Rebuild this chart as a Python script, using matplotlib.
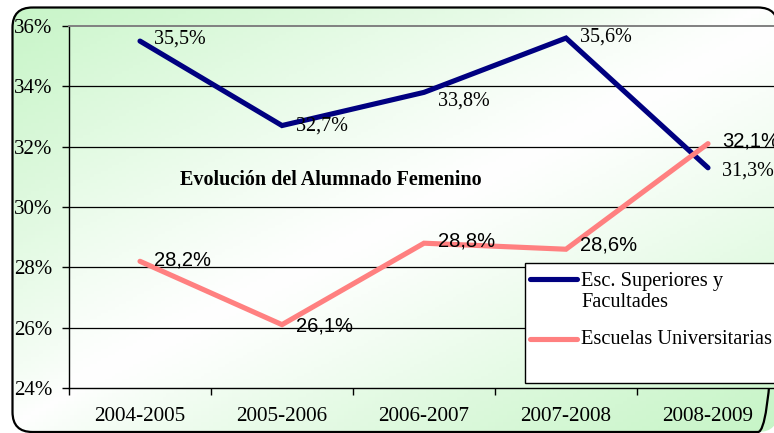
import numpy as np
import matplotlib
matplotlib.use("Agg")
import matplotlib.pyplot as plt
from matplotlib.patches import FancyBboxPatch, Rectangle
from matplotlib.lines import Line2D

# ---- data ----
categories = ["2004-2005", "2005-2006", "2006-2007", "2007-2008", "2008-2009"]
superiores = [35.5, 32.7, 33.8, 35.6, 31.3]
universitarias = [28.2, 26.1, 28.8, 28.6, 32.1]
series_names = ["Esc. Superiores y\nFacultades", "Escuelas Universitarias"]
title = "Evolución del Alumnado Femenino"
yticks = [24, 26, 28, 30, 32, 34, 36]

# ---- style ----
W, H = 774, 433
NAVY = "#000080"
SALMON = "#FF8080"
SERIF = "Liberation Serif"
SANS = "Liberation Sans"
FS = 14.5
GREEN = np.array([0.78, 0.96, 0.78])
WHITE = np.array([1.0, 1.0, 1.0])

def fx(x):
    return x / W

def fy(y):
    return 1 - y / H

def diag_gradient(nx, ny, green=GREEN, power=1.0):
    xs = np.linspace(0, 1, nx)
    ys = np.linspace(0, 1, ny)
    X, Y = np.meshgrid(xs, ys)
    t = (X + Y) / 2.0
    f = np.abs(t - 0.5) * 2  # 1 at corners TL/BR, 0 at anti-diagonal
    f = np.clip(f, 0, 1) ** power
    img = WHITE[None, None, :] * (1 - f[..., None]) + green[None, None, :] * f[..., None]
    return img

fig = plt.figure(figsize=(W / 100, H / 100), dpi=100)
fig.patch.set_facecolor("white")

# background in pixel coordinates with rounded border
bg = fig.add_axes([0, 0, 1, 1], zorder=-10)
bg.set_axis_off()
bg.set_xlim(0, W)
bg.set_ylim(H, 0)
bx0, by0, bx1, by1, rad = 12.5, 7.5, 778, 432, 20
clip = FancyBboxPatch((bx0, by0), bx1 - bx0, by1 - by0,
                      boxstyle=f"round,pad=0,rounding_size={rad}",
                      transform=bg.transData, facecolor="none", edgecolor="none")
bg.add_patch(clip)
im = bg.imshow(diag_gradient(200, 120, power=0.8), extent=(0, W, H, 0), aspect="auto",
               zorder=0)
im.set_clip_path(clip)
border = FancyBboxPatch((bx0, by0), bx1 - bx0, by1 - by0,
                        boxstyle=f"round,pad=0,rounding_size={rad}",
                        facecolor="none", edgecolor="black", linewidth=1.6, zorder=5)
bg.add_patch(border)
bg.set_xlim(0, W)
bg.set_ylim(H, 0)

# main axes (extends past the right edge as in the reference)
left, right, top, bottom = 69, 779, 26, 388
ax = fig.add_axes([fx(left), fy(bottom), (right - left) / W, (bottom - top) / H])
ax.patch.set_alpha(0)
x = np.arange(len(categories))
ax.set_xlim(-0.5, len(categories) - 0.5)
ax.set_ylim(yticks[0], yticks[-1])

ax.imshow(diag_gradient(200, 120, green=np.array([0.82, 0.97, 0.82]), power=1.1),
          extent=(-0.5, len(categories) - 0.5, yticks[0], yticks[-1]),
          aspect="auto", zorder=0)

for v in yticks[1:-1]:
    ax.axhline(v, color="black", lw=0.9, zorder=1)

ax.plot(x, superiores, color=NAVY, lw=3.7, solid_capstyle="round",
        solid_joinstyle="miter", zorder=3)
ax.plot(x, universitarias, color=SALMON, lw=3.7, solid_capstyle="round",
        solid_joinstyle="miter", zorder=3)

def pct(v):
    return f"{v:.1f}".replace(".", ",") + "%"

sup_dy = [2, 0, -9, 1, -3]
uni_dy = [1, -1, 2, 4, 3]
for i, v in enumerate(superiores):
    ax.annotate(pct(v), (x[i], v), xytext=(14, sup_dy[i]), textcoords="offset pixels",
                ha="left", va="center", fontsize=FS, family=SERIF, color="black",
                zorder=4, annotation_clip=False)
for i, v in enumerate(universitarias):
    ax.annotate(pct(v), (x[i], v), xytext=(14, uni_dy[i]), textcoords="offset pixels",
                ha="left", va="center", fontsize=FS, family=SANS, color="black",
                zorder=4, annotation_clip=False)

# axes styling
ax.spines["right"].set_visible(False)
ax.spines["top"].set_color("#808080")
ax.spines["top"].set_linewidth(1.4)
ax.spines["left"].set_color("black")
ax.spines["bottom"].set_color("black")
ax.spines["left"].set_linewidth(1.0)
ax.spines["bottom"].set_linewidth(1.0)

ax.set_yticks(yticks)
ax.set_yticklabels([f"{v}%" for v in yticks], family=SERIF, fontsize=FS + 0.5)
ax.tick_params(axis="y", direction="out", length=5, width=1, pad=7)
ax.set_xticks(x)
ax.set_xticklabels(categories, family=SERIF, fontsize=FS + 0.7)
ax.tick_params(axis="x", which="major", length=0, pad=14)
ax.set_xticks(np.arange(-0.5, len(categories), 1.0), minor=True)
ax.tick_params(axis="x", which="minor", direction="out", length=5, width=1)

fig.text(fx(331), fy(180), title, ha="center", va="center", family=SERIF,
         fontsize=FS, fontweight="bold")

# legend (drawn manually to match the reference layout)
fig.patches.append(Rectangle((fx(525), fy(383)), fx(800) - fx(525), fy(263) - fy(383),
                             transform=fig.transFigure, facecolor="white",
                             edgecolor="black", lw=1.0, zorder=6, figure=fig))
for (y0, yt), col, name in zip([(279, 292), (339, 339)], [NAVY, SALMON], series_names):
    fig.add_artist(Line2D([fx(530), fx(577)], [fy(y0), fy(y0)], transform=fig.transFigure,
                          color=col, lw=3.7, solid_capstyle="round", zorder=7))
    fig.text(fx(581), fy(yt), name, ha="left", va="center", family=SERIF,
             fontsize=FS + 0.2, linespacing=1.1, zorder=7)

fig.savefig("out.png", dpi=100)
